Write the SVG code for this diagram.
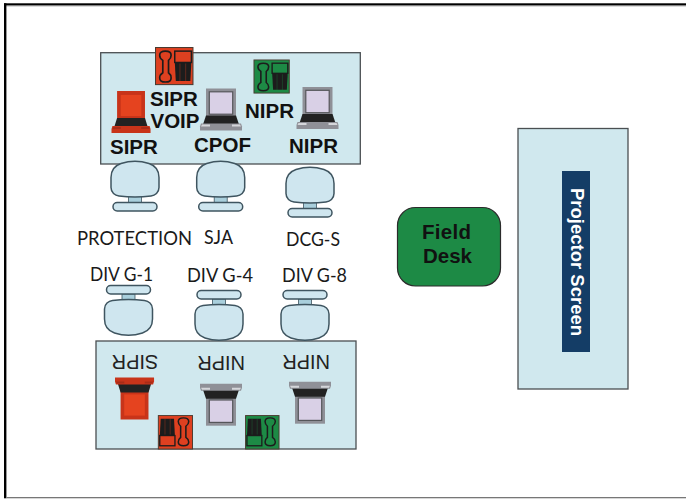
<svg xmlns="http://www.w3.org/2000/svg" width="686" height="499" viewBox="0 0 686 499">
<style>
.tbl{fill:#d0e8ee;stroke:#4a4f52;stroke-width:1.3}
.b{font-family:"Liberation Sans",Arial,sans-serif;font-weight:bold;font-size:20.5px;fill:#111}
.r{font-family:"Liberation Sans",Arial,sans-serif;font-size:20px;fill:#222}
.m{font-family:Lato,"Open Sans",sans-serif;font-size:20px;fill:#1a1a1a}
.chair *{fill:#cfe6ef;stroke:#3f5560;stroke-width:1.5}
.chair .st{fill:#a9cfdc;stroke-width:.8}
.lap .fr{fill:var(--f)}
.lap .sc{fill:var(--s);stroke:var(--e);stroke-width:1.2}
.lap .kb{fill:#222}
.lap .hl{fill:var(--h)}
.ph .bg{fill:var(--p);stroke:#4a3a30;stroke-width:1}
.ph .hs{fill:var(--p);stroke:#1c1c1c;stroke-width:1.6}
.ph .kp{fill:#1c1c1c}
.ph .tp{fill:var(--p);stroke:#1c1c1c;stroke-width:1.4}
.ph .ln{stroke:var(--p);stroke-width:.6;fill:none;opacity:.55}
</style>
<defs>
<g id="laptop" class="lap">
<rect class="fr" x="6" y="0" width="30" height="29"/>
<rect class="sc" x="9.3" y="3.3" width="23.4" height="22.4"/>
<path class="kb" d="M6,27H36L39,36H3Z"/>
<path class="fr" d="M1,35H41L42,38V42H0V38Z"/>
<path class="hl" d="M2,36H10V38H1ZM32,36H40L41,38H32Z"/>
</g>
<g id="phone" class="ph">
<rect class="bg" x=".5" y=".5" width="36" height="36"/>
<path class="hs" d="M4.5,8Q4.5,4 10,4Q15.5,4 15.5,8Q15.5,11 13,13V25Q15.5,27 15.5,30Q15.5,34 10,34Q4.5,34 4.5,30Q4.5,27 7.5,25V13Q4.5,11 4.5,8Z"/>
<path class="kp" d="M19,14H35L34,33H20Z"/>
<rect class="tp" x="19" y="4" width="16" height="11"/>
<path class="ln" d="M24,16V33M29.5,16V33"/>
</g>
<g id="chair" class="chair">
<rect class="st" x="-6.5" y="35" width="13" height="6"/>
<rect x="-22" y="41" width="44" height="8.5" rx="4.2"/>
<path d="M-24,16C-24,8 -20,4 -14,2C-5,-1 5,-1 14,2C20,4 24,8 24,16V26C24,31 20,34 16,34.5Q0,36.5 -16,34.5C-20,34 -24,31 -24,26Z"/>
</g>
</defs>
<g id="frame">
<rect width="686" height="499" fill="#fff"/>
<rect x="4" y="3.3" width="682" height="2.2" fill="#000"/>
<rect x="6.3" y="5.5" width="680" height=".8" fill="#888"/>
<rect x="4" y="3.3" width="2.4" height="495" fill="#000"/>
<rect x="6.4" y="497" width="680" height="1.3" fill="#777"/>
</g>
<g id="table-top"><rect class="tbl" x="100.7" y="52.7" width="259.6" height="111.3"/></g>
<g id="table-bottom"><rect class="tbl" x="96" y="341" width="260" height="108"/></g>
<g id="chair-protection"><use href="#chair" transform="translate(135,161.5)"/><text class="m" x="77" y="245" textLength="115" lengthAdjust="spacingAndGlyphs">PROTECTION</text></g>
<g id="chair-sja"><use href="#chair" transform="translate(220.7,161.5)"/><text class="m" x="204" y="244" textLength="29" lengthAdjust="spacingAndGlyphs">SJA</text></g>
<g id="chair-dcgs"><use href="#chair" transform="translate(310,167.5)"/><text class="m" x="286" y="246" textLength="54" lengthAdjust="spacingAndGlyphs">DCG-S</text></g>
<g id="chair-g1"><use href="#chair" transform="translate(128.5,335) scale(1,-1)"/><text class="m" x="90" y="281" textLength="63" lengthAdjust="spacingAndGlyphs">DIV G-1</text></g>
<g id="chair-g4"><use href="#chair" transform="translate(219,340) scale(1,-1)"/><text class="m" x="187" y="281.7" textLength="66" lengthAdjust="spacingAndGlyphs">DIV G-4</text></g>
<g id="chair-g8"><use href="#chair" transform="translate(305,340) scale(1,-1)"/><text class="m" x="282" y="282" textLength="65" lengthAdjust="spacingAndGlyphs">DIV G-8</text></g>
<g id="sipr-voip-phone" style="--p:#de4020"><use href="#phone" transform="translate(155,47) scale(1.04,1.03)"/></g>
<g id="nipr-phone" style="--p:#1d8a45"><use href="#phone" transform="translate(253.5,59.5) scale(.98,.92)"/></g>
<g id="sipr-laptop" style="--f:#c8341a;--s:#e5431f;--e:#c8341a;--h:#a82c18"><use href="#laptop" transform="translate(111.5,91) scale(.93,1)"/><text class="b" x="110" y="154">SIPR</text></g>
<g id="cpof-laptop" style="--f:#8f9097;--s:#d9d0e6;--e:#55565a;--h:#d5d6da"><use href="#laptop" transform="translate(200,88.5)"/><text class="b" x="194" y="152" textLength="57" lengthAdjust="spacingAndGlyphs">CPOF</text></g>
<g id="nipr-laptop" style="--f:#8f9097;--s:#d9d0e6;--e:#55565a;--h:#d5d6da"><use href="#laptop" transform="translate(296.5,87)"/><text class="b" x="289" y="152.7">NIPR</text></g>
<g id="sipr-voip-label"><text class="b" x="150" y="106">SIPR</text><text class="b" x="150.5" y="128">VOIP</text></g>
<g id="nipr-label"><text class="b" x="245" y="118">NIPR</text></g>
<g id="sipr-laptop-b" style="--f:#c8341a;--s:#e5431f;--e:#c8341a;--h:#a82c18"><use href="#laptop" transform="translate(115,419.5) scale(.93,-1)"/><text class="r" transform="translate(158.3,354.5) rotate(180)">SIPR</text></g>
<g id="nipr-laptop-b1" style="--f:#8f9097;--s:#d9d0e6;--e:#55565a;--h:#d5d6da"><use href="#laptop" transform="translate(200,425.7) scale(1,-1)"/><text class="r" transform="translate(245,355.5) rotate(180)">NIPR</text></g>
<g id="nipr-laptop-b2" style="--f:#8f9097;--s:#d9d0e6;--e:#55565a;--h:#d5d6da"><use href="#laptop" transform="translate(289,423.7) scale(1,-1)"/><text class="r" transform="translate(330,354.5) rotate(180)">NIPR</text></g>
<g id="phone-red-b" style="--p:#de4020"><use href="#phone" transform="translate(193,449.5) rotate(180) scale(.95,.93)"/></g>
<g id="phone-green-b" style="--p:#1d8a45"><use href="#phone" transform="translate(279.5,449.5) rotate(180) scale(.93,.93)"/></g>
<g id="field-desk"><rect x="397.5" y="207.5" width="103" height="78.5" rx="18" fill="#1d8a45" stroke="#2b2b2b" stroke-width="1.2"/>
<text class="b" x="422" y="239" textLength="49">Field</text><text class="b" x="423" y="263" textLength="49">Desk</text></g>
<g id="projector-table"><rect class="tbl" x="518" y="128.5" width="110" height="260.5"/></g>
<g id="projector-screen"><rect x="562" y="171" width="28" height="181" fill="#143d66"/>
<text transform="translate(570.5,188) rotate(90)" font-family="Liberation Sans,Arial,sans-serif" font-weight="bold" font-size="18.5" fill="#fff">Projector Screen</text></g>
</svg>
